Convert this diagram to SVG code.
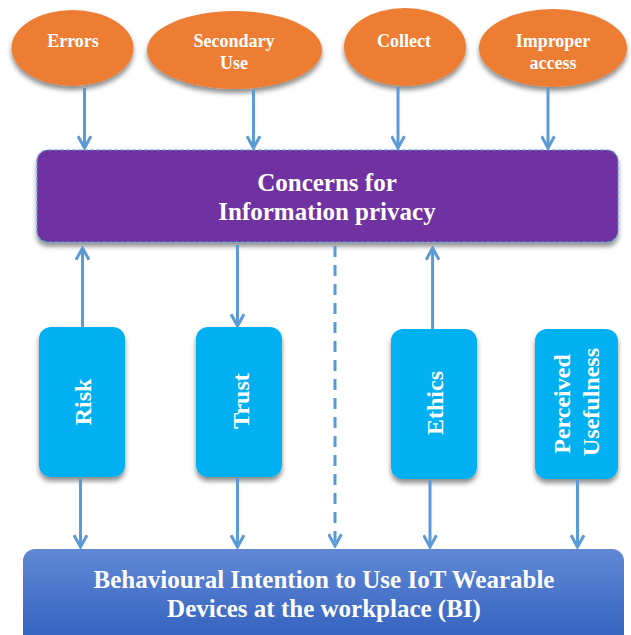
<svg xmlns="http://www.w3.org/2000/svg" width="631" height="635" viewBox="0 0 631 635">
<style>
.t{font-family:"Liberation Serif","Times New Roman",serif;font-weight:bold;fill:#fff;text-anchor:middle}
.e{fill:#ED7D31}
.b{fill:#00B0F0}
.c{stroke:#5B9BD5;stroke-width:3;fill:none}
</style>
<defs>
<filter id="sh" x="-10%" y="-10%" width="120%" height="130%">
<feDropShadow dx="0" dy="4" stdDeviation="2.5" flood-color="#000" flood-opacity="0.45"/>
</filter>
<linearGradient id="bg" x1="0" y1="0" x2="0" y2="1">
<stop offset="0" stop-color="#6088D4"/>
<stop offset="1" stop-color="#2F5EBD"/>
</linearGradient>
<marker id="arr" viewBox="0 0 14 14" refX="12" refY="7" markerWidth="15" markerHeight="15" markerUnits="userSpaceOnUse" orient="auto">
<path d="M1,1 L12,7 L1,13" fill="none" stroke="#5B9BD5" stroke-width="2.8"/>
</marker>
</defs>

<g id="errors">
<ellipse class="e" cx="72.5" cy="48" rx="61" ry="38" filter="url(#sh)"/>
<text class="t" x="73" y="47" font-size="18">Errors</text>
</g>
<g id="secondary-use">
<ellipse class="e" cx="234.5" cy="50" rx="87.5" ry="39" filter="url(#sh)"/>
<text class="t" x="234" y="47" font-size="18">Secondary</text>
<text class="t" x="234" y="69" font-size="18">Use</text>
</g>
<g id="collect">
<ellipse class="e" cx="405" cy="47" rx="61" ry="39" filter="url(#sh)"/>
<text class="t" x="404" y="47" font-size="18">Collect</text>
</g>
<g id="improper-access">
<ellipse class="e" cx="553" cy="48" rx="74" ry="39" filter="url(#sh)"/>
<text class="t" x="553" y="47" font-size="18">Improper</text>
<text class="t" x="553" y="69" font-size="18">access</text>
</g>

<g id="concerns">
<rect x="37" y="150" width="581" height="92" rx="11" fill="#7030A0" stroke="#5B9BD5" stroke-width="1.2" stroke-dasharray="4 2" filter="url(#sh)"/>
<text class="t" x="327" y="191" font-size="25">Concerns for</text>
<text class="t" x="327" y="220" font-size="25">Information privacy</text>
</g>

<g id="risk">
<rect class="b" x="39" y="327" width="86" height="150" rx="12" filter="url(#sh)"/>
<text class="t" font-size="24" transform="translate(91,402) rotate(-90)">Risk</text>
</g>
<g id="trust">
<rect class="b" x="196" y="327" width="86" height="150" rx="12" filter="url(#sh)"/>
<text class="t" font-size="24" transform="translate(249,401) rotate(-90)">Trust</text>
</g>
<g id="ethics">
<rect class="b" x="391" y="329" width="86" height="150" rx="12" filter="url(#sh)"/>
<text class="t" font-size="24" transform="translate(443,403) rotate(-90)">Ethics</text>
</g>
<g id="perceived-usefulness">
<rect class="b" x="535" y="329" width="83" height="150" rx="12" filter="url(#sh)"/>
<text class="t" font-size="24" transform="translate(570,404) rotate(-90)">Perceived</text>
<text class="t" font-size="24" transform="translate(599,402) rotate(-90)">Usefulness</text>
</g>

<g id="bi">
<rect x="23" y="549" width="601" height="100" rx="12" fill="url(#bg)"/>
<text class="t" x="324" y="588" font-size="25">Behavioural Intention to Use IoT Wearable</text>
<text class="t" x="324" y="617" font-size="25">Devices at the workplace (BI)</text>
</g>

<g id="connectors">
<line class="c" x1="84.5" y1="88" x2="84.5" y2="148" marker-end="url(#arr)"/>
<line class="c" x1="253.5" y1="90" x2="253.5" y2="148" marker-end="url(#arr)"/>
<line class="c" x1="398" y1="87" x2="398" y2="148" marker-end="url(#arr)"/>
<line class="c" x1="548" y1="87" x2="548" y2="148" marker-end="url(#arr)"/>
<line class="c" x1="82.5" y1="327" x2="82.5" y2="248" marker-end="url(#arr)"/>
<line class="c" x1="237.5" y1="245" x2="237.5" y2="326" marker-end="url(#arr)"/>
<line class="c" x1="432.6" y1="329" x2="432.6" y2="248" marker-end="url(#arr)"/>
<line class="c" x1="335" y1="246" x2="335" y2="546" stroke-dasharray="11 8" marker-end="url(#arr)"/>
<line class="c" x1="80.5" y1="478" x2="80.5" y2="547" marker-end="url(#arr)"/>
<line class="c" x1="237.5" y1="478" x2="237.5" y2="547" marker-end="url(#arr)"/>
<line class="c" x1="430" y1="480" x2="430" y2="547" marker-end="url(#arr)"/>
<line class="c" x1="577.5" y1="480" x2="577.5" y2="547" marker-end="url(#arr)"/>
</g>
</svg>
